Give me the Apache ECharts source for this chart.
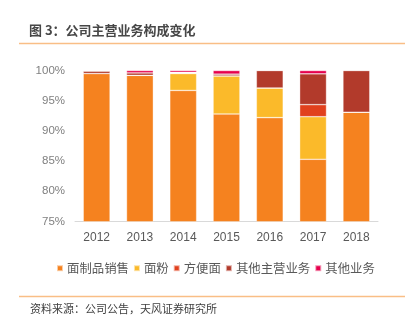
<!DOCTYPE html>
<html><head><meta charset="utf-8">
<script src="https://cdn.jsdelivr.net/npm/echarts@6/dist/echarts.min.js"></script>
<style>html,body{margin:0;padding:0;background:#fff}#c{width:411px;height:328px}</style>
</head><body><div id="c"></div>
<script>
const years = ['2012','2013','2014','2015','2016','2017','2018'];
const seriesNames = ['面制品销售','面粉','方便面','其他主营业务','其他业务'];
const noodleProducts = [99.5, 99.2, 96.7, 92.8, 92.2, 85.3, 93.1];
const flour          = [0,    0,    2.8,  6.3,  4.9,  7.05, 0];
const instantNoodles = [0,    0,    0.1,  0,    0,    2.0,  0];
const otherMain      = [0.4,  0.4,  0.1,  0.3,  2.9,  5.1,  6.9];
const otherBiz       = [0.1,  0.4,  0.3,  0.6,  0,    0.55, 0];
const yTicks = [75, 80, 85, 90, 95, 100];
const colors = ['#F5821F','#FBBA2A','#E1401D','#B23A2B','#E6004D'];

const font = 'Liberation Sans, "Noto Sans CJK SC", sans-serif';
const dataArr = [noodleProducts, flour, instantNoodles, otherMain, otherBiz];
const chart = echarts.init(document.getElementById('c'), null, {renderer:'canvas'});
chart.setOption({
  animation:false,
  color: colors,
  textStyle:{fontFamily:font},
  grid:{left:75, right:33, top:70.5, bottom:106.5, containLabel:false},
  legend:{
    data: seriesNames, top: 257, left: 51,
    itemWidth:6, itemHeight:6, itemGap:4, icon:'rect',
    textStyle:{fontSize:12.4, color:'#595959', fontFamily:'"Noto Sans CJK SC", sans-serif', padding:[0,0,0,-1]}
  },
  xAxis:{
    type:'category', data: years,
    axisLine:{lineStyle:{color:'#d9d9d9', width:1}},
    axisTick:{show:false},
    axisLabel:{color:'#595959', fontSize:12, margin:10}
  },
  yAxis:{
    type:'value', min:75, max:100, interval:5,
    axisLine:{show:false}, axisTick:{show:false}, splitLine:{show:false},
    axisLabel:{color:'#808080', fontSize:11.5, margin:10, formatter: v => yTicks.includes(v) ? v + '%' : ''}
  },
  series: seriesNames.map((n,i)=>({
    name:n, type:'bar', stack:'total', data: dataArr[i], barWidth:'62%',
    itemStyle:{borderColor:'rgba(255,255,255,0.6)', borderWidth:0.6}
  })),
  graphic:[
    {type:'text', left:29, top:24, style:{text:'图 3：公司主营业务构成变化', font:'bold 13px "Noto Sans CJK SC", sans-serif', fill:'#474747'}},
    {type:'line', shape:{x1:19, y1:43.5, x2:405, y2:43.5}, style:{stroke:'#F9BE86', lineWidth:1.5}},
    {type:'line', shape:{x1:19, y1:296.5, x2:405, y2:296.5}, style:{stroke:'#F9BE86', lineWidth:1.5}},
    {type:'text', left:30, top:303, style:{text:'资料来源：公司公告，天风证券研究所', font:'11px "Noto Sans CJK SC", sans-serif', fill:'#404040'}}
  ]
});
</script></body></html>
